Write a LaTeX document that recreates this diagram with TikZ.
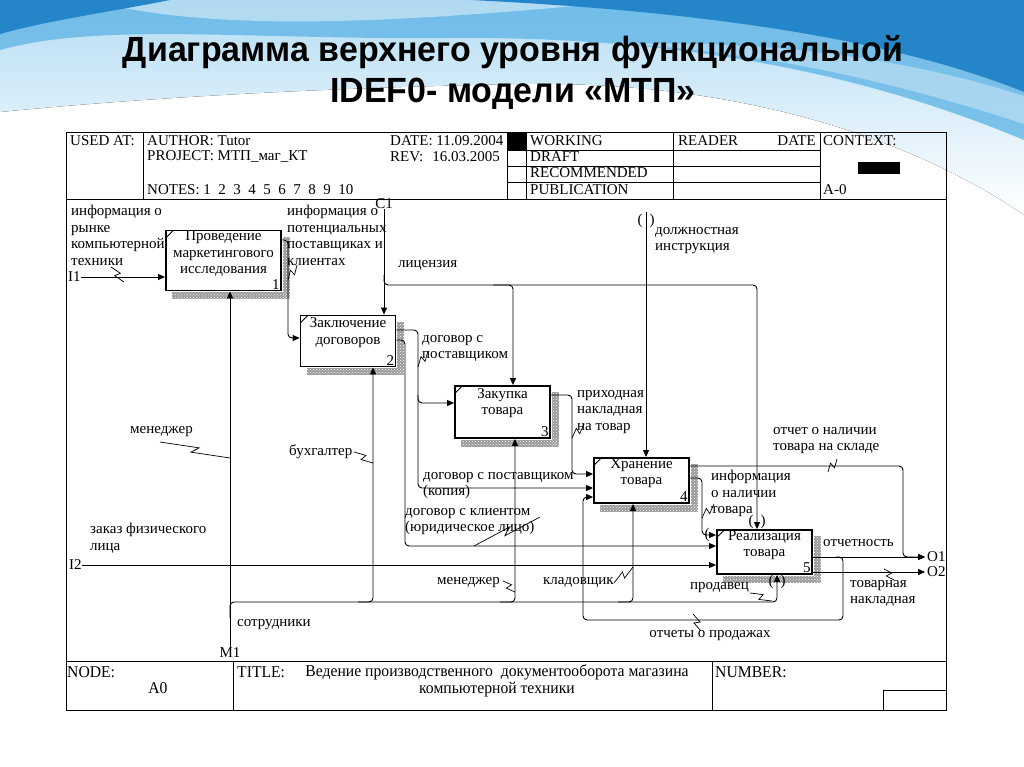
\documentclass[tikz,border=0pt]{standalone}
\usepackage{fontspec}
\setmainfont{Liberation Serif}
\newfontfamily\titlefont[FakeStretch=0.97]{Liberation Sans}
\newfontfamily\narrowfont[FakeStretch=0.95]{Liberation Serif}
\usetikzlibrary{arrows.meta,calc,patterns}

\definecolor{waveA}{HTML}{B5DDF4}
\definecolor{waveB}{HTML}{62B6E6}
\definecolor{waveC}{HTML}{2585C9}

% IDEF0 squiggle between a label and its arrow
\newcommand{\squig}[2]{\draw[squig] #1 -- ($#1!.55!#2!3pt!90:#2$) -- ($#1!.45!#2!3pt!-90:#2$) -- #2;}

\begin{document}
\begin{tikzpicture}[x=1pt,y=-1pt,
  txt/.style={font=\fontsize{15}{16.5}\selectfont, inner sep=0pt, align=left},
  hd/.style={txt, anchor=west},
  lbl/.style={txt, anchor=north west},
  func/.style={draw, line width=1.8pt, inner sep=0pt},
  ftxt/.style={txt, align=center, anchor=north},
  nr/.style={txt, inner sep=2pt, anchor=south east},
  ftr/.style={font=\narrowfont\fontsize{16.5}{17}\selectfont, inner sep=0pt, align=center},
  flow/.style={line width=0.9pt, rounded corners=4pt, -{Triangle[length=7pt,width=6pt]}},
  squig/.style={line width=0.7pt},
  frm/.style={line width=0.9pt},
  tun/.style={txt},
]
\useasboundingbox (0,0) rectangle (1024,767);

% slide background
\fill[white] (0,0) rectangle (1024,767);
\fill[top color=waveA, bottom color=white] (0,0) -- (1024,0) -- (1024,215) .. controls (930,150) and (760,80) .. (520,84) .. controls (300,88) and (120,100) .. (0,112) -- cycle;
\fill[waveB, opacity=.8] (0,0) -- (1024,0) -- (1024,140) .. controls (880,80) and (700,36) .. (450,38) .. controls (250,40) and (100,22) .. (0,50) -- cycle;
\fill[white, opacity=.45] (90,0) .. controls (220,36) and (430,20) .. (640,0) -- cycle;
\fill[waveC] (0,0) -- (170,0) .. controls (110,12) and (50,20) .. (0,34) -- cycle;
\fill[waveC] (470,0) -- (1024,0) -- (1024,92) .. controls (900,42) and (720,12) .. (470,0) -- cycle;
\fill[white, opacity=.35] (1024,96) .. controls (900,56) and (760,40) .. (620,44) .. controls (780,52) and (920,90) .. (1024,124) -- cycle;

\node[font=\titlefont\bfseries\fontsize{35}{40}\selectfont, anchor=base, inner sep=0pt] (title1) at (513,62) {Диаграмма верхнего уровня функциональной};
\node[font=\titlefont\bfseries\fontsize{35}{40}\selectfont, anchor=base, inner sep=0pt] (title2) at (513,103) {IDEF0- модели «МТП»};

% form frame
\draw[frm] (66,132) rectangle (946,710);
\draw[frm] (66,199) -- (946,199);
\draw[frm] (66,661) -- (946,661);
\foreach \x in {143,507,526,673,820} \draw[frm] (\x,132) -- (\x,199);
\foreach \y in {150,166,182} \draw[frm] (507,\y) -- (820,\y);
\fill (507,132) rectangle (526,150);
\fill (858,162) rectangle (900,174);
\foreach \x in {233,712} \draw[frm] (\x,661) -- (\x,710);
\draw[frm] (883,710) |- (946,690);

% header
\node[hd] (used) at (70,141) {USED AT:};
\node[hd] (author) at (147,141) {AUTHOR: Tutor};
\node[hd] (project) at (147,157) {PROJECT: МТП\_маг\_КТ};
\node[hd] (notes) at (147,190) {NOTES: 1\ \ 2\ \ 3\ \ 4\ \ 5\ \ 6\ \ 7\ \ 8\ \ 9\ \ 10};
\node[hd] (date) at (390,141) {DATE: 11.09.2004};
\node[hd] (rev) at (390,157) {REV:\hspace{9pt}16.03.2005};
\node[hd] (working) at (530,141) {WORKING};
\node[hd] (draft) at (530,157) {DRAFT};
\node[hd] (recom) at (530,173) {RECOMMENDED};
\node[hd] (publ) at (530,190) {PUBLICATION};
\node[hd] (reader) at (678,141) {READER};
\node[txt, anchor=east] (rdate) at (816,141) {DATE};
\node[hd] (context) at (823,141) {CONTEXT:};
\node[hd] (ctxnode) at (823,190) {A-0};

% footer
\node[ftr, anchor=west] (fnode) at (67,672) {NODE:};
\node[ftr] (fa0) at (158,688) {A0};
\node[ftr, anchor=west] (ftitle) at (237,672) {TITLE:};
\node[ftr, anchor=north] (fname) at (497,664) {Ведение производственного\ \ документооборота магазина\\компьютерной техники};
\node[ftr, anchor=west] (fnumber) at (715,672) {NUMBER:};

% functions
\node[func, minimum width=115pt, minimum height=60pt] (b1) at (223.5,260.5) {};
\node[func, minimum width=95pt, minimum height=51pt] (b2) at (348,341) {};
\node[func, minimum width=95pt, minimum height=52pt] (b3) at (502.5,412) {};
\node[func, minimum width=95pt, minimum height=45pt] (b4) at (641.5,480.5) {};
\node[func, minimum width=95pt, minimum height=44pt] (b5) at (764.5,552) {};
\foreach \b in {b1,b2,b3,b4,b5}{
  \fill[black!40] ($(\b.north east)+(1,7)$) rectangle ($(\b.south east)+(8,8)$);
  \fill[black!40] ($(\b.south west)+(7,1)$) rectangle ($(\b.south east)+(8,8)$);
  \fill[pattern=crosshatch dots, pattern color=white] ($(\b.north east)+(1,7)$) rectangle ($(\b.south east)+(8,8)$);
  \fill[pattern=crosshatch dots, pattern color=white] ($(\b.south west)+(7,1)$) rectangle ($(\b.south east)+(8,8)$);
  \draw[line width=0.8pt] ($(\b.north west)+(1,8)$) -- ($(\b.north west)+(8,1)$);
}
\node[ftxt] (t1) at ($(b1.north)+(0,1)$) {Проведение\\маркетингового\\исследования};
\node[ftxt] (t2) at ($(b2.north)+(0,3)$) {Заключение\\договоров};
\node[ftxt] (t3) at ($(b3.north)+(0,3)$) {Закупка\\товара};
\node[ftxt] (t4) at ($(b4.north)+(0,1)$) {Хранение\\товара};
\node[ftxt] (t5) at ($(b5.north)+(0,1)$) {Реализация\\товара};
\node[nr] (n1) at (b1.south east) {1};
\node[nr] (n2) at (b2.south east) {2};
\node[nr] (n3) at (b3.south east) {3};
\node[nr] (n4) at (b4.south east) {4};
\node[nr] (n5) at (b5.south east) {5};

% inputs
\node[hd] (i1) at (68,277) {I1};
\draw[flow] (i1.east) -- (b1.west |- i1.east);
\node[lbl] (li1) at (71,205) {информация о\\рынке\\компьютерной\\техники};
\squig{(111,267)}{(124,282)}
\node[hd] (i2) at (69,565) {I2};
\draw[flow] (i2.east) -- (b5.west |- i2.east);
\node[lbl] (li2) at (90,523) {заказ физического\\лица};

% controls
\node[txt] (c1) at (384,204) {C1};
\coordinate (cx3) at (513,285);
\coordinate (cx5) at (757,285);
\draw[flow] (c1.south) -- (c1.south |- b2.north);
\draw[flow] ($(c1.south)+(0,66)$) |- (cx5) -- (cx5 |- b5.north);
\draw[flow] ($(cx3)+(-20,0)$) -- (cx3) -- (cx3 |- b3.north);
\node[hd] (llic) at (398,265) {лицензия};
\coordinate (cdi) at (646,212);
\draw[flow] (cdi) -- (cdi |- b4.north);
\node[tun] (tu1) at (640,221) {(};
\node[tun] (tu2) at (652,221) {)};
\node[lbl] (ldi) at (655,227) {должностная\\инструкция};
\node[tun] (tu6) at (751,522) {(};
\node[tun] (tu7) at (763,522) {)};

% b1 -> b2
\draw[flow] (b1.east |- 0,240) -- (288,240) -- (288,338) -- (b2.west |- 0,338);
\node[lbl] (l12) at (287,205) {информация о\\потенциальных\\поставщиках и\\клиентах};
\squig{(297,265)}{(288,280)}

% b2 -> b3, b4, b5
\draw[flow] (b2.east |- 0,330) -- (418,330) -- (418,403) -- (b3.west |- 0,403);
\draw[flow] (418,395) -- (418,488) -- (b4.west |- 0,488);
\node[lbl] (l23) at (422,335) {договор с\\поставщиком};
\squig{(428,351)}{(418,367)}
\node[lbl] (l24) at (423,472) {договор с поставщиком\\(копия)};
\draw[flow] (b2.east |- 0,340) -- (405,340) -- (405,546) -- (b5.west |- 0,546);
\node[lbl] (l25) at (405,508) {договор с клиентом\\(юридическое лицо)};
\squig{(540,517)}{(474,546)}

% b3 -> b4
\draw[flow] (b3.east |- 0,395) -- (572,395) -- (572,474) -- (b4.west |- 0,474);
\node[lbl] (l34) at (577,390) {приходная\\накладная\\на товар};
\squig{(584,424)}{(572,438)}

% b4 -> b5
\draw[flow] (b4.east |- 0,478) -- (702,478) -- (702,535) -- (b5.west |- 0,535);
\node[lbl] (l45) at (711,470) {информация\\о наличии\\товара};
\squig{(714,504)}{(702,518)}
\node[tun] (tu3) at (707,535) {(};

% outputs
\coordinate (o1) at (925,557);
\coordinate (o2) at (925,572);
\draw[flow] (b4.east |- 0,466) -- (903,466) -- (903,557) -- (o1);
\node[lbl] (l4o) at (773,427) {отчет о наличии\\товара на складе};
\squig{(837,459)}{(828,472)}
\draw[flow] (b5.east |- o1) -- (o1);
\node[hd] (lo1) at (823,543) {отчетность};
\draw[flow] (b5.east |- o2) -- (o2);
\node[lbl] (lo2) at (850,580) {товарная\\накладная};
\squig{(894,580)}{(884,569)}
\node[hd] (no1) at (927,557) {O1};
\node[hd] (no2) at (927,572) {O2};

% feedback
\draw[flow] (836,557) -- (843,557) -- (843,620) -- (583,620) -- (583,497) -- (b4.west |- 0,497);
\node[txt] (lfb) at (710,636) {отчеты о продажах};
\squig{(701,631)}{(693,614)}

% mechanisms
\node[txt] (m1) at (230,653) {M1};
\coordinate (mx2) at (373,602);
\coordinate (mx3) at (515,602);
\coordinate (mx4) at (633,602);
\coordinate (mx5) at (777,602);
\draw[flow] (m1.north) -- (m1.north |- b1.south);
\draw[flow] ($(m1.north)+(0,-30)$) |- (mx5) -- (mx5 |- b5.south);
\foreach \m/\b in {mx2/b2,mx3/b3,mx4/b4}
  \draw[flow] ($(\m)+(-15,0)$) -- (\m) -- (\m |- \b.south);
\node[hd] (lm1) at (130,432) {менеджер};
\squig{(160,442)}{(230,458)}
\node[hd] (lm2) at (289,452) {бухгалтер};
\squig{(354,452)}{(373,463)}
\node[hd] (lm3) at (437,583) {менеджер};
\squig{(503,581)}{(515,592)}
\node[hd] (lm4) at (543,583) {кладовщик};
\squig{(614,583)}{(633,567)}
\node[hd] (lm5) at (690,588) {продавец};
\squig{(750,593)}{(772,601)}
\node[tun] (tu4) at (771,582) {(};
\node[tun] (tu5) at (783,582) {)};
\node[hd] (lsot) at (237,625) {сотрудники};
\end{tikzpicture}
\end{document}
